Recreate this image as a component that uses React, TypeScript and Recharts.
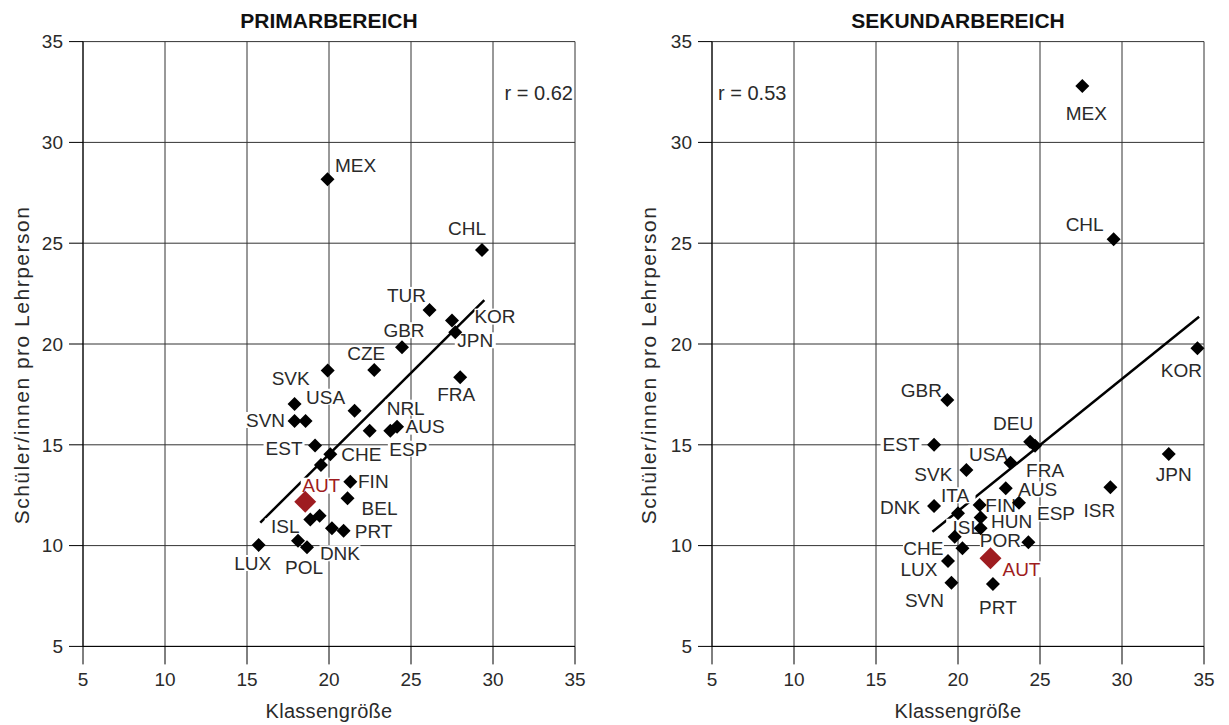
import React from 'react';
import { ScatterChart, Scatter, XAxis, YAxis, CartesianGrid } from 'recharts';

// Primarbereich
const primCountries = ['MEX', 'CHL', 'TUR', 'KOR', 'JPN', 'GBR', 'CZE', 'SVK', 'FRA', '', 'USA', 'SVN', '', 'NRL', 'ESP', 'AUS', 'EST', 'CHE', '', 'FIN', 'BEL', 'AUT', '', 'ISL', 'DNK', 'PRT', '', 'POL', 'LUX'];
const primClassSize = [19.91, 29.33, 26.13, 27.5, 27.7, 24.45, 22.76, 19.92, 28.0, 17.9, 21.56, 17.9, 18.57, 22.48, 23.74, 24.15, 19.15, 20.08, 19.51, 21.3, 21.13, 18.55, 19.43, 18.86, 20.18, 20.89, 18.11, 18.66, 15.71];
const primRatio = [28.17, 24.66, 21.69, 21.16, 20.58, 19.84, 18.71, 18.68, 18.35, 17.02, 16.69, 16.18, 16.18, 15.7, 15.7, 15.9, 14.96, 14.53, 14.0, 13.17, 12.35, 12.18, 11.48, 11.3, 10.86, 10.74, 10.24, 9.92, 10.03];
const primFitX = [15.81, 29.47];
const primFitY = [11.14, 22.18];
const primR = 'r = 0.62';

// Sekundarbereich
const sekCountries = ['MEX', 'CHL', 'KOR', 'JPN', 'ISR', 'GBR', 'DEU', 'FRA', 'EST', 'USA', 'SVK', 'AUS', 'ESP', 'DNK', 'ITA', 'FIN', 'HUN', '', 'ISL', 'CHE', 'POR', 'AUT', 'LUX', 'SVN', 'PRT'];
const sekClassSize = [27.58, 29.49, 34.6, 32.85, 29.29, 19.35, 24.4, 24.7, 18.54, 23.2, 20.51, 22.91, 23.72, 18.54, 20.0, 21.32, 21.38, 21.38, 19.8, 20.27, 24.29, 21.98, 19.39, 19.6, 22.13];
const sekRatio = [32.8, 25.19, 19.79, 14.54, 12.89, 17.22, 15.15, 14.95, 15.0, 14.11, 13.75, 12.84, 12.13, 11.96, 11.6, 12.01, 11.4, 10.86, 10.44, 9.87, 10.16, 9.37, 9.24, 8.16, 8.1];
const sekFitX = [18.44, 34.7];
const sekFitY = [10.69, 21.35];
const sekR = 'r = 0.53';

const axisTicks = [5, 10, 15, 20, 25, 30, 35];
const highlight = 'AUT';

// label placement (px offset of label centre from the point)
const primOffsets: Record<string, [number, number]> = {
  MEX: [28, -14], CHL: [-15, -22], TUR: [-23, -15], KOR: [43, -4], JPN: [20, 8],
  GBR: [2, -17], CZE: [-8, -17], SVK: [-37, 8], FRA: [-4, 17], USA: [-29, -14],
  SVN: [-29, -1], NRL: [36, -23], ESP: [18, 18], AUS: [28, 0], EST: [-31, 3],
  CHE: [31, 0], FIN: [23, -1], BEL: [32, 10], AUT: [16, -16], ISL: [-25, 7],
  DNK: [8, 25], PRT: [30, 0], POL: [-3, 20], LUX: [-6, 18],
};
const sekOffsets: Record<string, [number, number]> = {
  MEX: [4, 27], CHL: [-29, -15], KOR: [-16, 22], JPN: [5, 20], ISR: [-11, 23],
  GBR: [-26, -10], DEU: [-17, -19], FRA: [10, 24], EST: [-33, -1], USA: [-22, -9],
  SVK: [-33, 4], AUS: [32, 1], ESP: [37, 11], DNK: [-34, 1], ITA: [-3, -18],
  FIN: [21, 0], HUN: [31, 4], ISL: [12, -10], CHE: [-39, 0], POR: [-28, -2],
  AUT: [31, 11], LUX: [-29, 8], SVN: [-27, 17], PRT: [5, 23],
};

const RED = '#9e1c20';
const INK = '#2a2a2a';
const FONT = '"Liberation Sans", Arial, Helvetica, sans-serif';

const toPoints = (names: string[], xs: number[], ys: number[]) =>
  xs.map((x, i) => ({ name: names[i], x, y: ys[i] }));

const Diamond = (props: any) => {
  const { cx, cy, payload } = props;
  const hl = payload.name === highlight;
  const r = hl ? 11 : 7;
  return (
    <path
      d={`M${cx},${cy - r}L${cx + r},${cy}L${cx},${cy + r}L${cx - r},${cy}Z`}
      fill={hl ? RED : '#000'}
    />
  );
};

const makeLabel = (offsets: Record<string, [number, number]>) => (props: any) => {
  const { cx, cy, payload } = props;
  const name = payload.name;
  if (!name || !offsets[name]) return <g />;
  const [dx, dy] = offsets[name];
  const x = cx + dx;
  const y = cy + dy;
  const w = name.length * 13 + 2;
  return (
    <g>
      <rect x={x - w / 2} y={y - 8} width={w} height={16} fill="#fff" />
      <text x={x} y={y} dy="0.36em" textAnchor="middle" fontSize={19} fill={name === highlight ? RED : INK}>
        {name}
      </text>
    </g>
  );
};

type PanelProps = {
  title: string;
  names: string[];
  xs: number[];
  ys: number[];
  fitX: number[];
  fitY: number[];
  rText: string;
  rLeft: boolean;
  offsets: Record<string, [number, number]>;
  width: number;
  marginLeft: number;
  marginRight: number;
  yLabelX: number;
};

function Panel(p: PanelProps) {
  const points = toPoints(p.names, p.xs, p.ys);
  const fit = toPoints(['', ''], p.fitX, p.fitY);
  const plotLeft = p.marginLeft + 60;
  const plotRight = p.width - p.marginRight;
  const midX = (plotLeft + plotRight) / 2;
  return (
    <ScatterChart
      width={p.width}
      height={725}
      margin={{ top: 41.6, right: p.marginRight, bottom: 28.6, left: p.marginLeft }}
    >
      <CartesianGrid stroke="#333" strokeWidth={1} />
      <XAxis
        type="number"
        dataKey="x"
        domain={[5, 35]}
        ticks={axisTicks}
        interval={0}
        height={50}
        tickSize={18}
        tickMargin={8}
        stroke="#000"
        tick={{ fill: INK, fontSize: 19 }}
      />
      <YAxis
        type="number"
        dataKey="y"
        domain={[5, 35]}
        ticks={axisTicks}
        interval={0}
        width={60}
        tickSize={14}
        tickMargin={6}
        stroke="#000"
        tick={{ fill: INK, fontSize: 19 }}
      />
      <Scatter
        data={fit}
        line={{ stroke: '#000', strokeWidth: 2.5 }}
        lineType="joint"
        shape={() => <g />}
        isAnimationActive={false}
      />
      <Scatter data={points} shape={makeLabel(p.offsets)} isAnimationActive={false} />
      <Scatter data={points} shape={Diamond} isAnimationActive={false} />
      <text x={midX} y={20} dy="0.36em" textAnchor="middle" fontSize={21} fontWeight="bold" fill="#111">
        {p.title}
      </text>
      <text
        x={p.rLeft ? plotLeft + 6 : plotRight - 2}
        y={93}
        dy="0.36em"
        textAnchor={p.rLeft ? 'start' : 'end'}
        fontSize={20}
        fill={INK}
      >
        {p.rText}
      </text>
      <text x={midX} y={711} dy="0.36em" textAnchor="middle" fontSize={20} letterSpacing={0.3} fill={INK}>
        Klassengröße
      </text>
      <text
        x={p.yLabelX}
        y={365}
        dy="0.36em"
        textAnchor="middle"
        fontSize={21}
        letterSpacing={1.5}
        fill={INK}
        transform={`rotate(-90, ${p.yLabelX}, 365)`}
      >
        Schüler/innen pro Lehrperson
      </text>
    </ScatterChart>
  );
}

export default function App() {
  return (
    <div
      style={{
        position: 'absolute',
        left: 0,
        top: 0,
        width: 1229,
        height: 725,
        display: 'flex',
        background: '#fff',
        fontFamily: FONT,
      }}
    >
      <Panel
        title="PRIMARBEREICH"
        names={primCountries}
        xs={primClassSize}
        ys={primRatio}
        fitX={primFitX}
        fitY={primFitY}
        rText={primR}
        rLeft={false}
        offsets={primOffsets}
        width={614}
        marginLeft={23}
        marginRight={39}
        yLabelX={21}
      />
      <Panel
        title="SEKUNDARBEREICH"
        names={sekCountries}
        xs={sekClassSize}
        ys={sekRatio}
        fitX={sekFitX}
        fitY={sekFitY}
        rText={sekR}
        rLeft={true}
        offsets={sekOffsets}
        width={615}
        marginLeft={38}
        marginRight={25}
        yLabelX={34}
      />
    </div>
  );
}
